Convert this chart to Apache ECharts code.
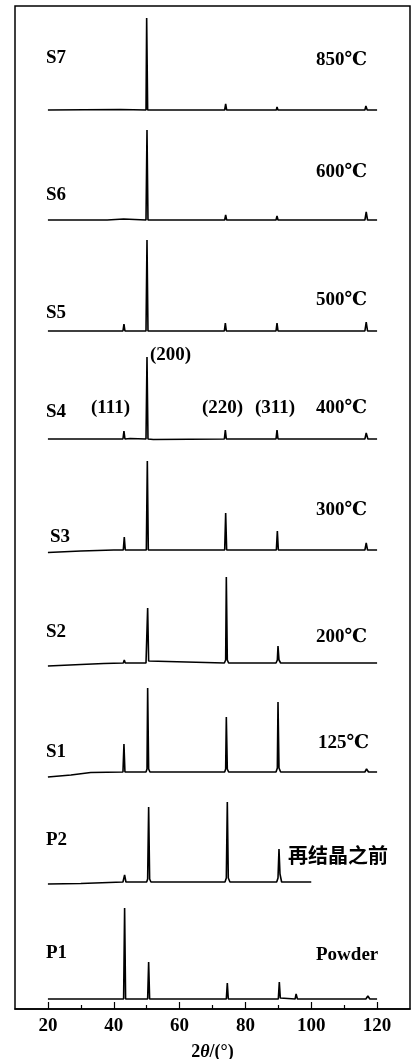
<!DOCTYPE html>
<html>
<head>
<meta charset="utf-8">
<script src="https://cdn.jsdelivr.net/npm/echarts@6/dist/echarts.min.js"></script>
<style>
  html, body { margin: 0; padding: 0; background: #fff; }
  #xrd-chart { width: 414px; height: 1059px; }
</style>
</head>
<body>
<div id="xrd-chart"></div>
<script>
// 2theta ticks
const majorTicks = [20, 40, 60, 80, 100, 120];
const minorTicks = [30, 50, 70, 90, 110];

// sample names (bottom to top) and their annotations
const sampleNames = ['P1', 'P2', 'S1', 'S2', 'S3', 'S4', 'S5', 'S6', 'S7'];
const sampleNotes = ['Powder', '再结晶之前', '125℃', '200℃', '300℃', '400℃', '500℃', '600℃', '850℃'];
// vertical shift of each pattern (same units as intensity)
const baselines = [10, 127, 237, 346, 459, 570, 678, 789, 899];

// patterns: [2theta, intensity above own baseline]
const p1 = [[20,0],[43.0,0],[43.3,91],[43.6,0],[50.3,0],[50.6,37],[50.9,0],[74.2,0],[74.5,16],[74.8,0],
  [90.0,0],[90.3,17],[90.6,1],[95.1,0],[95.4,5],[95.8,0],[116.6,0],[117.2,3],[117.8,0],[120,0]];
const p2 = [[20,-2],[30,-1.5],[42.8,0],[43.3,7],[43.7,0],[50.0,0],[50.3,3],[50.6,75],[50.9,3],[51.3,0],
  [73.8,0],[74.2,4],[74.5,80],[74.8,4],[75.3,0],[89.5,0],[89.9,4],[90.2,33],[90.5,8],[91.0,0],[100,0]];
const s1 = [[20,-5],[27,-3],[33,-0.5],[42.8,0],[43.1,28],[43.4,0],[49.8,0],[50.1,3],[50.3,84],[50.6,3],[51.0,0],
  [73.7,0],[74.0,3],[74.2,55],[74.5,3],[74.9,0],[89.3,0],[89.7,4],[89.9,70],[90.2,4],[90.7,0],
  [116.3,0],[116.8,3],[117.4,0],[120,0]];
const s2 = [[20,-3],[30,-1.5],[37,-0.5],[42.9,0],[43.2,3],[43.5,0],[49.8,0],[50.1,2],[50.3,55],[50.6,2],[51.0,0],
  [73.6,0],[74.0,3],[74.2,86],[74.5,3],[74.9,0],[89.3,0],[89.7,3],[89.9,17],[90.2,3],[90.7,0],
  [116.3,0],[116.8,2],[117.3,0],[120,0]];
const s3 = [[20,-2.5],[30,-1],[40,0],[42.9,0],[43.2,13],[43.5,0],[49.9,0],[50.2,89],[50.5,0],
  [73.7,0],[74.0,37],[74.3,0],[89.4,0],[89.7,19],[90.0,0],[116.3,0],[116.7,7],[117.1,0],[120,0]];
const s4 = [[20,0],[42.8,0],[43.1,8],[43.4,0],[45,0.5],[49.8,0],[50.1,82],[50.4,0],[52,-0.5],
  [73.6,0],[73.9,9],[74.2,0],[89.3,0],[89.6,9],[89.9,0],[116.3,0],[116.7,6],[117.2,0],[120,0]];
const s5 = [[20,0],[42.8,0],[43.1,7],[43.4,0],[49.8,0],[50.1,91],[50.4,0],
  [73.6,0],[73.9,8],[74.2,0],[89.3,0],[89.6,8],[89.9,0],[116.3,0],[116.7,9],[117.1,0],[120,0]];
const s6 = [[20,0],[38,0],[43,1],[49.8,0],[50.1,90],[50.4,0],
  [73.7,0],[74.0,5],[74.3,0],[89.3,0],[89.6,4],[89.9,0],[116.3,0],[116.7,8],[117.1,0],[120,0]];
const s7 = [[20,0],[42,0.5],[49.8,0],[50.0,92],[50.3,0],
  [73.7,0],[74.0,6],[74.3,0],[89.4,0],[89.6,3],[89.9,0],[116.3,0],[116.6,4],[117.0,0],[120,0]];

const patterns = [p1, p2, s1, s2, s3, s4, s5, s6, s7];

// peak indices written on S4
const hklLabels = ['(111)', '(200)', '(220)', '(311)'];

const serif = '"Liberation Serif", "DejaVu Serif", serif';

const series = patterns.map((pts, i) => ({
  type: 'line',
  name: sampleNames[i],
  showSymbol: false,
  silent: true,
  data: pts.map(p => [p[0], p[1] + baselines[i]]),
  lineStyle: { color: '#000', width: 1.6 }
}));

// text positions (px) for the annotations
const nameY = [953, 840, 752, 632, 537, 412, 313, 195, 58];
const nameX = [46, 46, 46, 46, 50, 46, 46, 46, 46];
const noteY = [955, 855, 743, 637, 510, 408, 300, 172, 60];
const noteX = [316, 288, 318, 316, 316, 316, 316, 316, 316];

const graphics = [];
sampleNames.forEach((s, i) => {
  graphics.push({
    type: 'text', x: nameX[i], y: nameY[i],
    style: { text: s, font: 'bold 19px ' + serif, fill: '#000', textVerticalAlign: 'middle' }
  });
  graphics.push({
    type: 'text', x: noteX[i], y: noteY[i],
    style: {
      text: sampleNotes[i],
      font: (i === 1 ? 'bold 20px "Noto Sans CJK SC"' : 'bold 19px ' + serif),
      fill: '#000', textVerticalAlign: 'middle'
    }
  });
});
const hklX = [91, 150, 202, 255];
const hklY = [408, 355, 408, 408];
hklLabels.forEach((t, i) => {
  graphics.push({
    type: 'text', x: hklX[i], y: hklY[i],
    style: { text: t, font: 'bold 19px ' + serif, fill: '#000', textVerticalAlign: 'middle' }
  });
});

const option = {
  animation: false,
  backgroundColor: '#fff',
  grid: {
    left: 15, right: 4, top: 6, bottom: 50,
    outerBoundsMode: 'none',
    show: true, borderColor: '#000', borderWidth: 1.5
  },
  xAxis: [
    {
      type: 'value', min: 10, max: 130, interval: 10,
      splitLine: { show: false },
      axisLine: { lineStyle: { color: '#000', width: 1.5 } },
      axisTick: { inside: true, length: 7, customValues: majorTicks, lineStyle: { color: '#000', width: 1.2 } },
      axisLabel: {
        customValues: majorTicks, margin: 8,
        color: '#000', fontSize: 19, fontWeight: 'bold', fontFamily: serif
      },
      name: '2{i|θ}/(°)',
      nameLocation: 'middle', nameGap: 34,
      nameTextStyle: {
        color: '#000', fontSize: 18, fontWeight: 'bold', fontFamily: serif,
        rich: { i: { fontStyle: 'italic', fontSize: 18, fontWeight: 'bold', fontFamily: serif } }
      }
    },
    {
      type: 'value', min: 10, max: 130, interval: 10, position: 'bottom',
      splitLine: { show: false },
      axisLine: { show: false },
      axisTick: { inside: true, length: 4, customValues: minorTicks, lineStyle: { color: '#000', width: 1.2 } },
      axisLabel: { show: false }
    }
  ],
  yAxis: {
    type: 'value', min: 0, max: 1003,
    show: false, splitLine: { show: false }
  },
  series: series,
  graphic: graphics
};

const myChart = echarts.init(document.getElementById('xrd-chart'));
myChart.setOption(option);
</script>
</body>
</html>
